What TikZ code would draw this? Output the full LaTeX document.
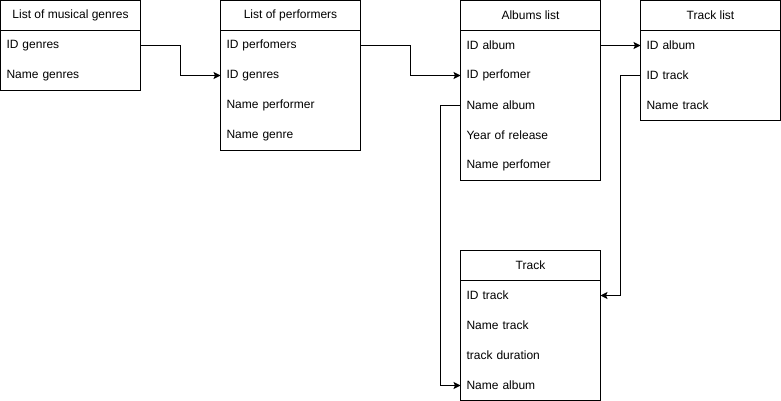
\documentclass[tikz,border=0pt]{standalone}
\usepackage{fontspec}
\setmainfont{Liberation Sans}
\usetikzlibrary{arrows.meta}
\tikzset{
  tframe/.style={draw, line width=1pt, minimum width=140pt, anchor=north west, inner sep=0pt, outer sep=0pt},
  thead/.style={draw, line width=1pt, minimum width=140pt, minimum height=30pt, anchor=north west, inner sep=0pt, outer sep=0pt, font=\fontsize{12}{14}\selectfont},
  trow/.style={minimum height=30pt, text width=128pt, inner xsep=6pt, inner ysep=0pt, outer sep=0pt, align=left, anchor=north west, font=\fontsize{12}{14}\selectfont},
  link/.style={line width=1pt, -{Stealth[length=7pt,width=7pt,inset=1.5pt]}},
}
\begin{document}
\begin{tikzpicture}[x=1pt,y=-1pt]
\useasboundingbox (0,0) rectangle (781,401);
% List of musical genres
\node[tframe, minimum height=90pt] (g) at (0.5,0.5) {};
\node[thead] (gh) at (0.5,0.5) {List of musical genres};
\node[trow] (gID) at (0.5,30.5) {ID genres};
\node[trow] (gName) at (0.5,60.5) {Name genres};
% List of performers
\node[tframe, minimum height=150pt] (p) at (220.5,0.5) {};
\node[thead] (ph) at (220.5,0.5) {List of performers};
\node[trow] (pID) at (220.5,30.5) {ID perfomers};
\node[trow] (pGen) at (220.5,60.5) {ID genres};
\node[trow] (pName) at (220.5,90.5) {Name performer};
\node[trow] (pGenre) at (220.5,120.5) {Name genre};
% Albums list
\node[tframe, minimum height=180pt] (a) at (460.5,0.5) {};
\node[thead] (ah) at (460.5,0.5) {Albums list};
\node[trow] (aID) at (460.5,30.5) {ID album};
\node[trow] (aPerf) at (460.5,60.5) {ID perfomer};
\node[trow] (aName) at (460.5,90.5) {Name album};
\node[trow] (aYear) at (460.5,120.5) {Year of release};
\node[trow] (aPerfName) at (460.5,150.5) {Name perfomer};
% Track list
\node[tframe, minimum height=120pt] (tl) at (640.5,0.5) {};
\node[thead] (tlh) at (640.5,0.5) {Track list};
\node[trow] (tlID) at (640.5,30.5) {ID album};
\node[trow] (tlTrack) at (640.5,60.5) {ID track};
\node[trow] (tlName) at (640.5,90.5) {Name track};
% Track
\node[tframe, minimum height=149.5pt] (t) at (460.5,250.5) {};
\node[thead] (th) at (460.5,250.5) {Track};
\node[trow] (tTrack) at (460.5,280.5) {ID track};
\node[trow] (tName) at (460.5,310.5) {Name track};
\node[trow] (tDur) at (460.5,340.5) {track duration};
\node[trow] (tAlbum) at (460.5,370.5) {Name album};
% connectors
\draw[link] (gID.east) -- ++(40,0) |- (pGen.west);
\draw[link] (pID.east) -- ++(50,0) |- (aPerf.west);
\draw[link] (aID.east) -- (tlID.west);
\draw[link] (tlTrack.west) -- ++(-20,0) |- (tTrack.east);
\draw[link] (aName.west) -- ++(-20,0) |- (tAlbum.west);
\end{tikzpicture}
\end{document}
